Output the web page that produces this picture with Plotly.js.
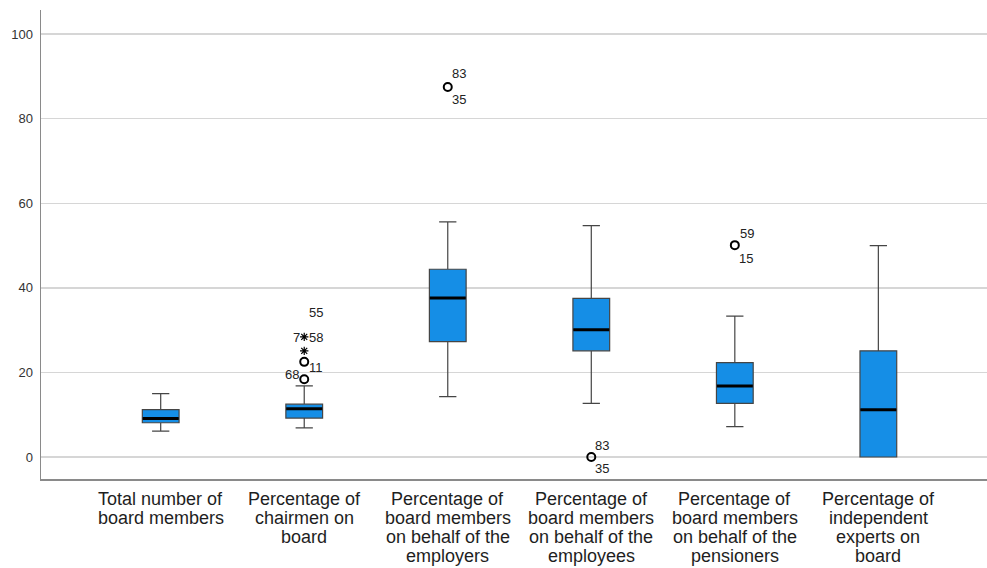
<!DOCTYPE html>
<html>
<head>
<meta charset="utf-8">
<script src="https://cdn.plot.ly/plotly-3.0.1.min.js"></script>
<style>html,body{margin:0;padding:0;background:#fff;}#chart{width:987px;height:568px;}</style>
</head>
<body>
<div id="chart"></div>
<script>
const categoryLines = [
  ["Total number of", "board members"],
  ["Percentage of", "chairmen on", "board"],
  ["Percentage of", "board members", "on behalf of the", "employers"],
  ["Percentage of", "board members", "on behalf of the", "employees"],
  ["Percentage of", "board members", "on behalf of the", "pensioners"],
  ["Percentage of", "independent", "experts on", "board"]
];
const categories = categoryLines.map(l => l.join(" "));
const lowerWhisker = [6.1, 6.9, 14.3, 12.7, 7.2, 0];
const q1Values     = [8.1, 9.2, 27.3, 25.1, 12.7, 0];
const medianValues = [9.1, 11.4, 37.6, 30.1, 16.8, 11.2];
const q3Values     = [11.2, 12.5, 44.4, 37.5, 22.3, 25.1];
const upperWhisker = [15.0, 16.8, 55.6, 54.7, 33.3, 50.0];

// outliers (circle = mild, star = extreme)
const circleCat = [categories[1], categories[1], categories[2], categories[3], categories[4]];
const circleVal = [18.4, 22.5, 87.5, 0, 50.1];
const starCat = [categories[1], categories[1]];
const starVal = [25.1, 28.4];

// case labels next to outliers
const labelText = ["68", "11", "7", "58", "55", "83", "35", "83", "35", "59", "15"];
const labelCat  = [categories[1], categories[1], categories[1], categories[1], categories[1],
                   categories[2], categories[2], categories[3], categories[3], categories[4], categories[4]];
const labelVal  = [18.4, 22.5, 28.4, 28.4, 28.4, 87.5, 87.5, 0, 0, 50.1, 50.1];
const labelDX   = [-12, 12, -8, 12, 12, 11, 11, 11, 11, 12, 11];
const labelDY   = [5, -6, -1, -1, 24, 13, -13, 12, -11, 12, -13];

const fillColor = "#158ee6";
const fontFam = "Liberation Sans, Arial, sans-serif";

const traces = [
  {
    type: "box",
    x: categories,
    q1: q1Values,
    median: medianValues,
    q3: q3Values,
    lowerfence: lowerWhisker,
    upperfence: upperWhisker,
    boxpoints: false,
    width: 0.256,
    whiskerwidth: 0.47,
    fillcolor: fillColor,
    line: {color: "#454545", width: 1.2},
    hoverinfo: "skip"
  },
  {
    type: "scatter",
    mode: "markers",
    x: categories,
    y: medianValues,
    marker: {symbol: "line-ew-open", size: 25.7, color: "#000", line: {color: "#000", width: 3}},
    hoverinfo: "skip"
  },
  {
    type: "scatter",
    mode: "markers",
    x: circleCat,
    y: circleVal,
    marker: {symbol: "circle-open", size: 8, color: "#000", line: {color: "#000", width: 2}},
    hoverinfo: "skip"
  },
  {
    type: "scatter",
    mode: "markers",
    x: starCat,
    y: starVal,
    marker: {symbol: "asterisk-open", size: 7, color: "#000", line: {color: "#000", width: 1.2}},
    hoverinfo: "skip"
  }
];

const annotations = labelText.map((t, i) => ({
  x: labelCat[i], y: labelVal[i], xref: "x", yref: "y",
  text: t, showarrow: false, xshift: labelDX[i], yshift: labelDY[i],
  font: {family: fontFam, size: 13, color: "#222"}
}));

categoryLines.forEach((lines, ci) => {
  lines.forEach((line, li) => {
    annotations.push({
      x: categories[ci], y: 0, xref: "x", yref: "paper",
      yanchor: "middle", xanchor: "center",
      text: line, showarrow: false,
      yshift: -19.8 - 19 * li,
      font: {family: fontFam, size: 18, color: "#1e1e1e"}
    });
  });
});

const layout = {
  width: 987, height: 568,
  margin: {l: 41, r: 0, t: 10, b: 89},
  paper_bgcolor: "#fff",
  plot_bgcolor: "#fff",
  showlegend: false,
  font: {family: fontFam, color: "#222"},
  xaxis: {
    type: "category",
    range: [-0.834, 5.757],
    showline: true, linecolor: "#8a8a8a", linewidth: 1.5,
    showgrid: false, zeroline: false,
    showticklabels: false, ticks: ""
  },
  yaxis: {
    range: [-5.2, 105.7],
    tickvals: [0, 20, 40, 60, 80, 100],
    showline: true, linecolor: "#8a8a8a", linewidth: 1.5,
    showgrid: true, gridcolor: "#d6d6d6", gridwidth: 1.5,
    zeroline: false,
    ticks: "outside", ticklen: 4, tickcolor: "rgba(0,0,0,0)",
    tickfont: {size: 13, color: "#333"}
  },
  annotations: annotations
};

Plotly.newPlot("chart", traces, layout, {displayModeBar: false, staticPlot: true});
</script>
</body>
</html>
